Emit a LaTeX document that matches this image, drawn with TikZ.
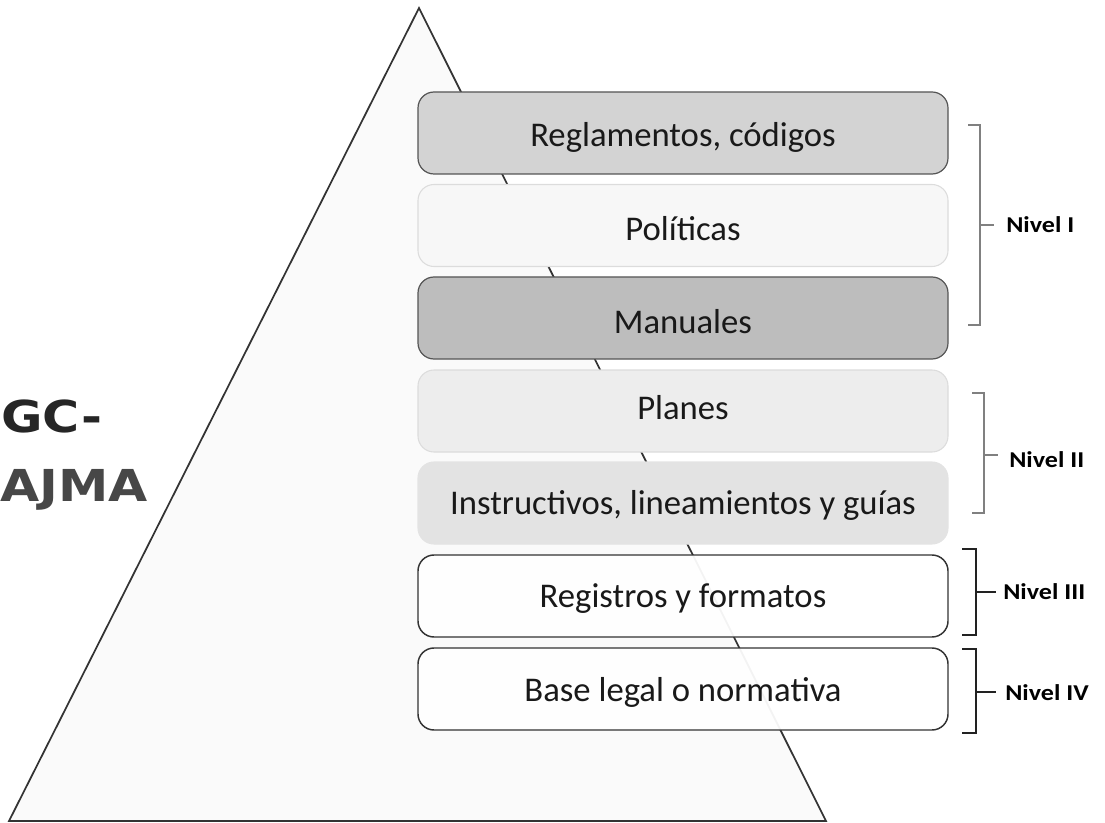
\documentclass[tikz,border=0pt]{standalone}
\usepackage{fontspec}
\setmainfont{Carlito}
\newfontfamily\gcfont{DejaVu Sans}
\usepackage{graphicx}
\definecolor{triline}{HTML}{333333}
\definecolor{trifill}{HTML}{FAFAFA}
\definecolor{boxA}{HTML}{D3D3D3}
\definecolor{boxB}{HTML}{F7F7F7}
\definecolor{boxC}{HTML}{BDBDBD}
\definecolor{boxD}{HTML}{EDEDED}
\definecolor{boxE}{HTML}{E3E3E3}
\definecolor{darkedge}{HTML}{555555}
\definecolor{lightedge}{HTML}{DCDCDC}
\definecolor{brgray}{HTML}{808080}
\definecolor{brdark}{HTML}{222222}
\tikzset{
  layer/.style={rounded corners=12, minimum width=530*0.75pt, minimum height=82*0.75pt,
    inner sep=0pt},
  layA/.style={layer, fill=boxA, draw=darkedge, line width=0.9pt},
  layB/.style={layer, fill=boxB, draw=lightedge, line width=0.8pt},
  layC/.style={layer, fill=boxC, draw=darkedge, line width=0.9pt},
  layD/.style={layer, fill=boxD, draw=lightedge, line width=0.8pt},
  layE/.style={layer, fill=boxE, draw=boxE, line width=0.8pt},
  layF/.style={layer, fill=white, fill opacity=0.94, draw=triline, line width=1.1pt},
  laytext/.style={font=\fontsize{26}{30}\selectfont, text=black!90, inner sep=0pt},
  brk/.style={line width=0.9pt},
  nivel/.style={font=\bfseries\fontsize{17}{19}\selectfont, anchor=west, inner sep=0pt},
  gc/.style={font=\gcfont\bfseries\fontsize{33}{38}\selectfont, anchor=west, inner sep=0pt}
}
\begin{document}
\begin{tikzpicture}[x=0.75pt, y=-0.75pt]
\useasboundingbox (0,0) rectangle (1105,823);
% pyramid
\coordinate (apex) at (419,8);
\coordinate (bl) at (9,821);
\coordinate (br) at (826,821);
\draw[triline, fill=trifill, line width=1.3pt, line join=miter] (apex) -- (br) -- (bl) -- cycle;
% layers
\node[layA] (l1) at (683,133) {};
\node[layB] (l2) at (683,225.5) {};
\node[layC] (l3) at (683,318) {};
\node[layD] (l4) at (683,411) {};
\node[layE] (l5) at (683,503) {};
\node[layF] (l6) at (683,596) {};
\node[layF] (l7) at (683,689) {};
\node[laytext] (t1) at (683,137) {Reglamentos, códigos};
\node[laytext] (t2) at (683,229) {Políticas};
\node[laytext] (t3) at (683,322) {Manuales};
\node[laytext] (t4) at (683,408) {Planes};
\node[laytext] (t5) at (683,505) {Instructivos, lineamientos y guías};
\node[laytext] (t6) at (683,599) {Registros y formatos};
\node[laytext] (t7) at (683,692) {Base legal o normativa};
% brackets
\coordinate (b1t) at (968,125); \coordinate (b1b) at (968,325); \coordinate (b1m) at (994,225);
\draw[brk, brgray] (b1t) -- ++(12,0) coordinate (b1tr) -- (b1tr |- b1b) -- (b1b);
\draw[brk, brgray] (980,225) -- (b1m);
\node[nivel] (n1) at (1006,225) {\scalebox{1.15}[1]{Nivel I}};
\coordinate (b2t) at (972,393); \coordinate (b2b) at (972,513); \coordinate (b2m) at (998,455);
\draw[brk, brgray] (b2t) -- ++(12,0) coordinate (b2tr) -- (b2tr |- b2b) -- (b2b);
\draw[brk, brgray] (984,455) -- (b2m);
\node[nivel] (n2) at (1009,460) {\scalebox{1.15}[1]{Nivel II}};
\coordinate (b3t) at (962,549); \coordinate (b3b) at (962,635); \coordinate (b3m) at (996,592);
\draw[brk, brdark] (b3t) -- ++(14,0) coordinate (b3tr) -- (b3tr |- b3b) -- (b3b);
\draw[brk, brdark] (976,592) -- (b3m);
\node[nivel] (n3) at (1003,592) {\scalebox{1.15}[1]{Nivel III}};
\coordinate (b4t) at (962,649); \coordinate (b4b) at (962,733); \coordinate (b4m) at (996,692);
\draw[brk, brdark] (b4t) -- ++(14,0) coordinate (b4tr) -- (b4tr |- b4b) -- (b4b);
\draw[brk, brdark] (976,692) -- (b4m);
\node[nivel] (n4) at (1005,693) {\scalebox{1.15}[1]{Nivel IV}};
% GC-AJMA
\node[gc, text=black!85] (gc1) at (1,416) {\scalebox{1.15}[1]{GC-}};
\node[gc, text=black!72] (gc2) at (0,490) {\scalebox{1.15}[1]{AJMA}};
\end{tikzpicture}
\end{document}
